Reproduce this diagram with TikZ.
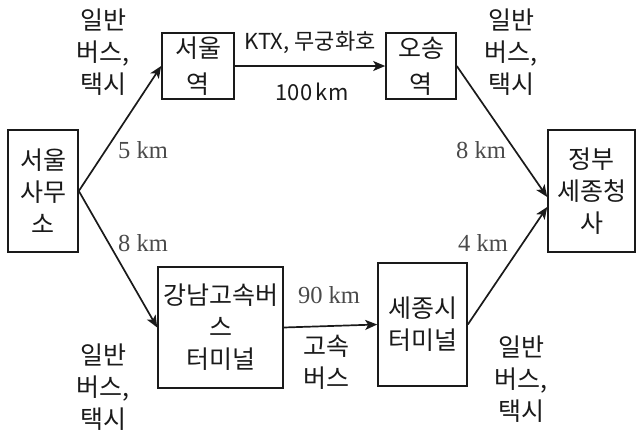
\documentclass[tikz,border=0pt]{standalone}
\usepackage{fontspec}
\setmainfont{Noto Sans CJK KR}
\newfontfamily\kmfont{Liberation Serif}
\usetikzlibrary{arrows.meta}
\definecolor{kmgray}{HTML}{4A4A4A}
\definecolor{ink}{HTML}{1A1A1A}
\tikzset{
  box/.style={draw=ink, line width=1.6pt, inner sep=0pt, align=center, text=ink,
    font=\fontsize{25}{32}\selectfont},
  lbl/.style={inner sep=0pt, align=center, text=ink, font=\fontsize{25}{32}\selectfont},
  sml/.style={inner sep=0pt, align=center, text=ink, font=\fontsize{22}{26}\selectfont},
  kmlbl/.style={inner sep=0pt, text=kmgray, font=\kmfont\fontsize{24.5}{26}\selectfont},
  arr/.style={draw=ink, line width=1.7pt, -{Stealth[length=12pt,width=10pt,inset=3pt]}},
}
\begin{document}
\begin{tikzpicture}[x=1pt,y=-1pt]
\useasboundingbox (0,0) rectangle (638,432);
% boxes
\node[box, minimum width=70pt, minimum height=122pt] (office) at (43,191) {서울\\사무\\소};
\node[box, minimum width=72pt, minimum height=66pt, font=\fontsize{25}{36}\selectfont] (seoulst) at (198,66) {서울\\역};
\node[box, minimum width=70pt, minimum height=66pt, font=\fontsize{25}{36}\selectfont] (osong) at (421,66) {오송\\역};
\node[box, minimum width=87pt, minimum height=122pt] (gov) at (591.5,191) {정부\\세종청\\사};
\node[box, minimum width=125pt, minimum height=121pt] (gangnam) at (220.5,327.5) {강남고속버\\스\\터미널};
\node[box, minimum width=89pt, minimum height=123pt] (sejong) at (422.5,324.5) {세종시\\터미널};
% connectors
\draw[arr] (office.east) -- (seoulst.west);
\draw[arr] (office.east) -- (gangnam.west);
\draw[arr] (seoulst.east) -- (osong.west);
\draw[arr] (osong.east) -- ([yshift=-6pt]gov.west);
\draw[arr] (gangnam.east) -- (sejong.west);
\draw[arr] (sejong.east) -- ([yshift=-16pt]gov.west);
% labels
\node[lbl] (tl) at (103,52) {일반\\버스,\\택시};
\node[lbl] (tr) at (511,52) {일반\\버스,\\택시};
\node[lbl] (bl) at (103,387) {일반\\버스,\\택시};
\node[lbl] (br) at (521,379) {일반\\버스,\\택시};
\node[sml] (ktx) at (310,42) {KTX, 무궁화호};
\node[sml] (d100) at (312,92) {100\,km};
\node[lbl] (exp) at (326,362) {고속\\버스};
\node[kmlbl] (d5) at (143,150) {5 km};
\node[kmlbl] (d8a) at (143,243) {8 km};
\node[kmlbl] (d8b) at (481,150) {8 km};
\node[kmlbl] (d4) at (483,243) {4 km};
\node[kmlbl] (d90) at (329,295) {90 km};
\end{tikzpicture}
\end{document}
